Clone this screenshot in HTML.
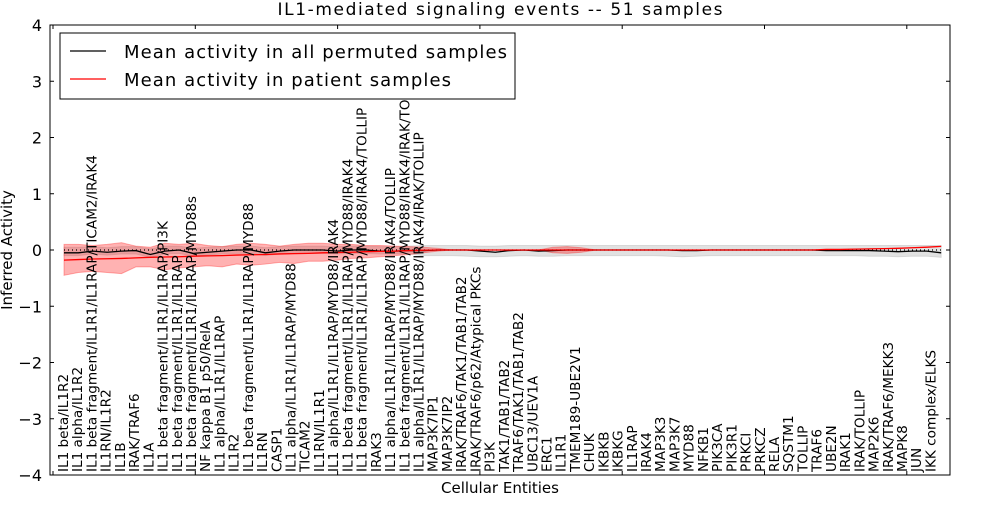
<!DOCTYPE html>
<html><head><meta charset="utf-8"><style>
body{margin:0;background:#fff;}
svg text{font-family:"DejaVu Sans","Liberation Sans",sans-serif;}
</style></head><body>
<svg id="chart" width="1000" height="500" xmlns="http://www.w3.org/2000/svg">
<rect width="1000" height="500" fill="#fff"/>
<text x="500" y="15" font-size="17" text-anchor="middle" textLength="445">IL1-mediated signaling events -- 51 samples</text>
<g id="bands"></g>
<g id="lines"></g>
<g id="labels"></g>
<g id="axes"></g>
</svg>
<script>
const categories=["IL1 beta/IL1R2","IL1 alpha/IL1R2","IL1 beta fragment/IL1R1/IL1RAP/TICAM2/IRAK4","IL1RN/IL1R2","IL1B","IRAK/TRAF6","IL1A","IL1 beta fragment/IL1R1/IL1RAP/PI3K","IL1 beta fragment/IL1R1/IL1RAP","IL1 beta fragment/IL1R1/IL1RAP/MYD88s","NF kappa B1 p50/RelA","IL1 alpha/IL1R1/IL1RAP","IL1R2","IL1 beta fragment/IL1R1/IL1RAP/MYD88","IL1RN","CASP1","IL1 alpha/IL1R1/IL1RAP/MYD88","TICAM2","IL1RN/IL1R1","IL1 alpha/IL1R1/IL1RAP/MYD88/IRAK4","IL1 beta fragment/IL1R1/IL1RAP/MYD88/IRAK4","IL1 beta fragment/IL1R1/IL1RAP/MYD88/IRAK4/TOLLIP","IRAK3","IL1 alpha/IL1R1/IL1RAP/MYD88/IRAK4/TOLLIP","IL1 beta fragment/IL1R1/IL1RAP/MYD88/IRAK4/IRAK/TOLLIP","IL1 alpha/IL1R1/IL1RAP/MYD88/IRAK4/IRAK/TOLLIP","MAP3K7IP1","MAP3K7IP2","IRAK/TRAF6/TAK1/TAB1/TAB2","IRAK/TRAF6/p62/Atypical PKCs","PI3K","TAK1/TAB1/TAB2","TRAF6/TAK1/TAB1/TAB2","UBC13/UEV1A","ERC1","IL1R1","TMEM189-UBE2V1","CHUK","IKBKB","IKBKG","IL1RAP","IRAK4","MAP3K3","MAP3K7","MYD88","NFKB1","PIK3CA","PIK3R1","PRKCI","PRKCZ","RELA","SQSTM1","TOLLIP","TRAF6","UBE2N","IRAK1","IRAK/TOLLIP","MAP2K6","IRAK/TRAF6/MEKK3","MAPK8","JUN","IKK complex/ELKS"];
const permMean=[-0.05,-0.05,-0.02,-0.04,-0.02,-0.01,-0.08,-0.02,0.0,-0.06,-0.04,-0.02,0.0,0.0,-0.05,-0.02,0.0,0.0,0.0,-0.02,0.0,0.0,-0.02,-0.02,-0.01,-0.01,0.0,0.0,0.0,-0.02,-0.04,-0.01,0.0,-0.02,-0.01,0.0,0.0,0.0,0.0,0.0,0.0,0.0,0.0,-0.01,-0.01,0.0,0.0,0.0,0.0,0.0,0.0,0.0,0.0,-0.01,-0.01,-0.01,-0.01,-0.02,-0.03,-0.02,-0.02,-0.05];
const permLo=[-0.1,-0.1,-0.07,-0.09,-0.07,-0.07,-0.13,-0.07,-0.06,-0.11,-0.09,-0.07,-0.06,-0.06,-0.1,-0.07,-0.06,-0.06,-0.06,-0.07,-0.06,-0.06,-0.07,-0.07,-0.07,-0.1,-0.1,-0.1,-0.11,-0.12,-0.12,-0.11,-0.1,-0.11,-0.11,-0.1,-0.1,-0.1,-0.1,-0.1,-0.1,-0.1,-0.11,-0.12,-0.11,-0.1,-0.1,-0.1,-0.1,-0.1,-0.1,-0.1,-0.1,-0.1,-0.1,-0.1,-0.11,-0.11,-0.12,-0.11,-0.11,-0.13];
const permHi=[0.05,0.05,0.06,0.04,0.06,0.06,0.02,0.07,0.07,0.03,0.05,0.06,0.07,0.07,0.04,0.06,0.07,0.07,0.07,0.06,0.07,0.07,0.06,0.06,0.07,0.08,0.08,0.08,0.08,0.07,0.07,0.08,0.08,0.08,0.08,0.08,0.08,0.08,0.08,0.08,0.08,0.08,0.08,0.08,0.08,0.08,0.08,0.08,0.08,0.08,0.08,0.08,0.08,0.08,0.08,0.08,0.08,0.08,0.08,0.08,0.08,0.08];
const patMean=[-0.18,-0.17,-0.16,-0.155,-0.15,-0.14,-0.13,-0.125,-0.12,-0.11,-0.105,-0.1,-0.09,-0.085,-0.08,-0.07,-0.065,-0.06,-0.05,-0.045,-0.04,-0.03,-0.025,-0.02,-0.01,-0.005,0.0,0.0,0.0,0.0,0.0,0.0,0.0,0.0,0.0,0.0,0.0,0.0,0.0,0.0,0.0,0.0,0.0,0.0,0.0,0.0,0.0,0.0,0.0,0.0,0.0,0.0,0.0,0.01,0.01,0.015,0.02,0.025,0.03,0.04,0.05,0.065];
const patLo=[-0.45,-0.4,-0.38,-0.4,-0.42,-0.3,-0.3,-0.35,-0.32,-0.3,-0.28,-0.3,-0.25,-0.27,-0.25,-0.22,-0.24,-0.2,-0.2,-0.18,-0.15,-0.14,-0.12,-0.1,-0.08,-0.05,-0.02,0,0,0,0,0,0,0,-0.05,-0.06,-0.04,0,0,0,0,0,0,0,0,0,0,0,0,0,0,0,0,0.01,0.01,0.015,0.02,0.025,0.03,0.04,0.05,0.065];
const patHi=[0.1,0.1,0.08,0.1,0.13,0.07,0.05,0.12,0.1,0.12,0.08,0.06,0.1,0.12,0.1,0.07,0.1,0.12,0.12,0.1,0.1,0.08,0.08,0.07,0.06,0.05,0.03,0,0,0,0,0,0,0,0.05,0.06,0.04,0,0,0,0,0,0,0,0,0,0,0,0,0,0,0,0,0.01,0.01,0.015,0.02,0.025,0.03,0.04,0.05,0.065];
const yTicks=[-4,-3,-2,-1,0,1,2,3,4];
const legendItems=["Mean activity in all permuted samples","Mean activity in patient samples"];

const NS="http://www.w3.org/2000/svg";
const L=50,R=950,T=25,B=475;
const y=v=>250-v*56.25;
const xd=i=>64+i*14.38;
const xl=i=>63+i*14.22;
function mk(tag,attrs,parent){const e=document.createElementNS(NS,tag);for(const k in attrs)e.setAttribute(k,attrs[k]);document.getElementById(parent).appendChild(e);return e;}
function band(lo,hi,fill,op,name,from,to){let d="";for(let i=from;i<=to;i++)d+=(i==from?"M":"L")+xd(i)+","+y(hi[i]);for(let i=to;i>=from;i--)d+="L"+xd(i)+","+y(lo[i]);
const e=mk("path",{d:d+"Z",fill:fill,"fill-opacity":op,stroke:fill,"stroke-opacity":op},"bands");

}
const n=categories.length;
band(permLo,permHi,"#aaaaaa",0.35,"permuted-band",0,n-1);
band(patLo,patHi,"#ff0000",0.3,"patient-band",0,n-1);
function line(arr,col,name,dash){let d="";arr.forEach((v,i)=>d+=(i?"L":"M")+xd(i)+","+y(v));
const e=mk("path",{d:d,fill:"none",stroke:col,"stroke-width":1.3},"lines");if(dash)e.setAttribute("stroke-dasharray",dash);

}
line(categories.map(()=>0),"#000","zero-line","1,3");
line(permMean,"#000","permuted-mean-line");
line(patMean,"#ff0000","patient-mean-line");
categories.forEach((c,i)=>{const t=mk("text",{x:0,y:0,"font-size":13.6,transform:`translate(${xl(i)+5},472) rotate(-90)`},"labels");t.textContent=c;

});
const f=mk("rect",{x:L,y:T,width:R-L,height:B-T,fill:"none",stroke:"#000","stroke-width":1},"axes");


yTicks.forEach(v=>{mk("line",{x1:L,x2:L+4,y1:y(v),y2:y(v),stroke:"#000"},"axes");mk("line",{x1:R-4,x2:R,y1:y(v),y2:y(v),stroke:"#000"},"axes");
const t=mk("text",{x:L-8,y:y(v)+6,"font-size":16,"text-anchor":"end"},"axes");t.textContent=(v<0?"\u2212":"")+Math.abs(v);

});
for(let k=0;k<7;k++){const xx=53+k*142.3;mk("line",{x1:xx,x2:xx,y1:T,y2:T+4,stroke:"#000"},"axes");mk("line",{x1:xx,x2:xx,y1:B-4,y2:B,stroke:"#000"},"axes");}
const xt=mk("text",{x:500,y:493,"font-size":15,"text-anchor":"middle"},"axes");xt.textContent="Cellular Entities";


const yt=mk("text",{x:0,y:0,"font-size":15,"text-anchor":"middle",transform:"translate(12,250) rotate(-90)"},"axes");yt.textContent="Inferred Activity";


const lg=mk("rect",{x:60,y:33,width:455,height:66,fill:"#fff",stroke:"#000"},"axes");


const lw=[383,327];
legendItems.forEach((s,i)=>{const yy=51+i*28;mk("line",{x1:70,x2:106,y1:yy,y2:yy,stroke:i?"#ff0000":"#000","stroke-width":1.3},"axes");
const t=mk("text",{x:124,y:yy+7,"font-size":18,textLength:lw[i]},"axes");t.textContent=s;

});
</script>
</body></html>
